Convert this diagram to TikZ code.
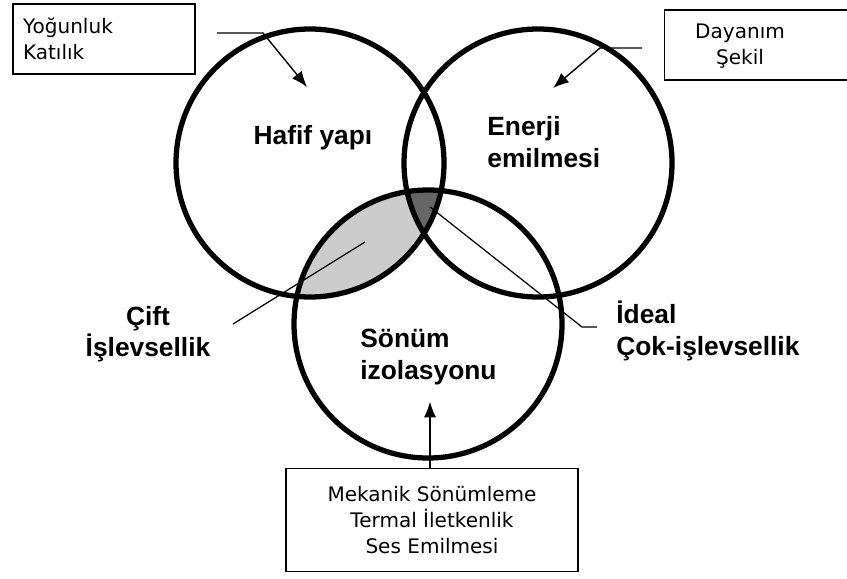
\documentclass[tikz,border=0pt]{standalone}
\usepackage{fontspec}
\setmainfont{Liberation Sans}
\newfontfamily\notefont{DejaVu Sans}
\usetikzlibrary{arrows.meta}

\tikzset{
	venn/.style={line width=3pt},
	tag/.style={font=\bfseries\fontsize{15}{18}\selectfont, inner sep=0pt},
	notebox/.style={draw, line width=1pt, inner sep=0pt},
	notetext/.style={font=\notefont\fontsize{11.4}{14.8}\selectfont, inner sep=0pt},
	pointer/.style={line width=0.8pt, -{Latex[length=9pt,width=7pt]}},
	leader/.style={line width=0.7pt}
}

\begin{document}
\begin{tikzpicture}[x=0.02cm,y=0.02cm]
	\useasboundingbox (0,0) rectangle (847,-578);

	% circle centres
	\coordinate (light) at (310,-163);
	\coordinate (energy) at (538,-163);
	\coordinate (damp) at (428,-324);

	% shaded overlaps
	\begin{scope}
		\clip (light) circle (134);
		\fill[black!20] (damp) circle (134);
	\end{scope}
	\begin{scope}
		\clip (light) circle (134);
		\clip (energy) circle (134);
		\fill[black!60] (damp) circle (134);
	\end{scope}

	\draw[venn] (light) circle (134);
	\draw[venn] (energy) circle (134);
	\draw[venn] (damp) circle (134);

	% circle labels
	\node[tag] (hafif) at (313,-138) {Hafif yapı};
	\node[tag, align=left, anchor=west] (enerji) at (487,-142) {Enerji\\emilmesi};
	\node[tag, align=left, anchor=west] (sonum) at (360,-357) {Sönüm\\izolasyonu};
	\node[tag, align=center] (cift) at (148,-334) {Çift\\İşlevsellik};
	\node[tag, align=left, anchor=west] (ideal) at (616,-331) {İdeal\\Çok-işlevsellik};

	% property boxes
	\node[notebox, notetext, align=left, inner xsep=0.2cm, text width=3.24cm, minimum height=1.4cm] (densbox) at (104,-39) {Yoğunluk\\Katılık};
	\node[notebox, minimum width=3.7cm, minimum height=1.4cm] (strbox) at (757,-45) {};
	\node[notetext, align=center] (strtext) at (740,-46) {Dayanım\\Şekil};
	\node[notebox, notetext, align=center, minimum width=5.84cm, minimum height=2.06cm] (dampbox) at (432,-520) {Mekanik Sönümleme\\Termal İletkenlik\\Ses Emilmesi};

	% pointers into the circles
	\coordinate (d1) at (217,-33);
	\coordinate (d2) at (263,-33);
	\coordinate (d3) at (307,-87);
	\draw[pointer] (d1) -- (d2) -- (d3);

	\coordinate (s1) at (642,-48);
	\coordinate (s2) at (600,-48);
	\coordinate (s3) at (553,-88);
	\draw[pointer] (s1) -- (s2) -- (s3);

	\draw[pointer] (dampbox.north) ++(-2,0) -- ++(0,66);

	% leaders to the overlaps
	\coordinate (c1) at (233,-324);
	\coordinate (c2) at (365,-242);
	\draw[leader] (c1) -- (c2);

	\coordinate (i1) at (597,-327);
	\coordinate (i2) at (582,-327);
	\coordinate (i3) at (430,-207);
	\draw[leader] (i1) -- (i2) -- (i3);
\end{tikzpicture}
\end{document}
